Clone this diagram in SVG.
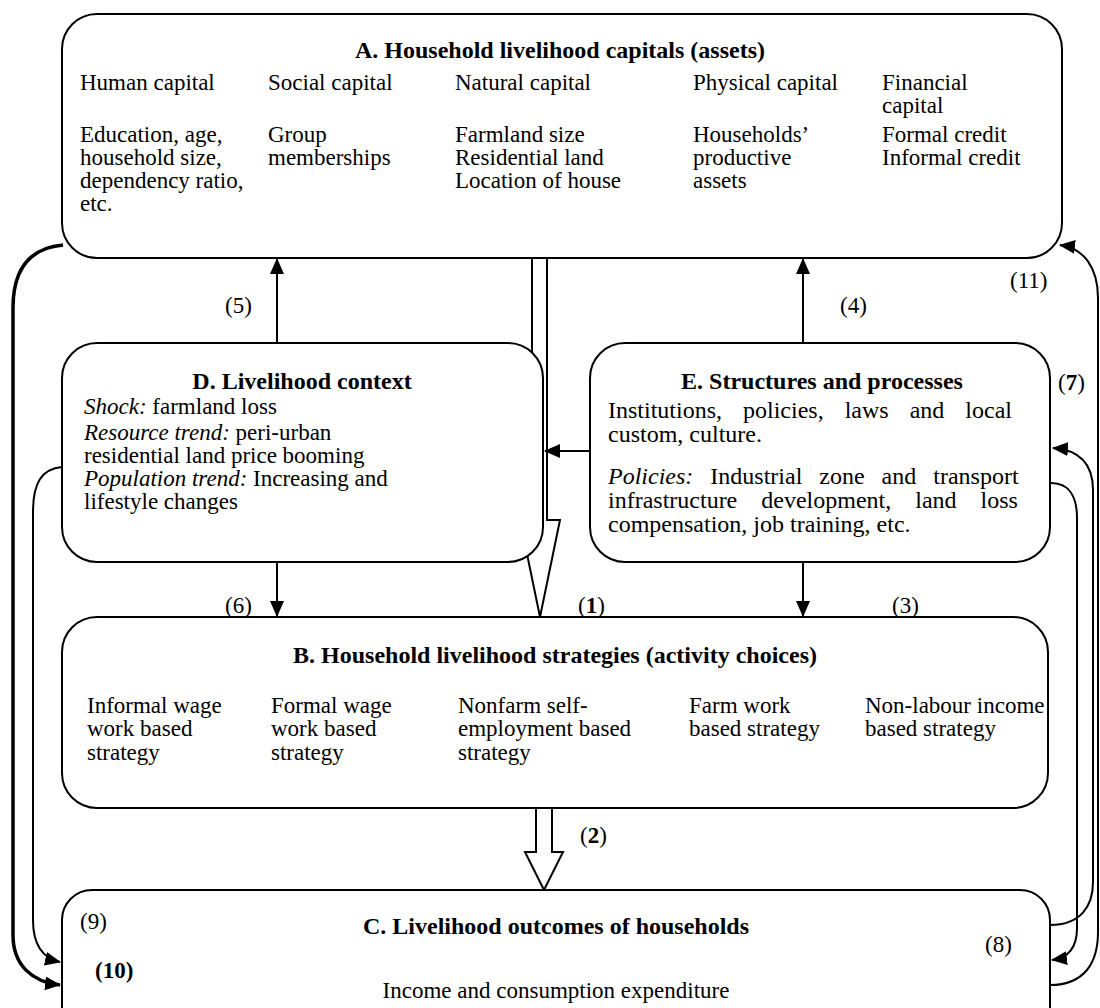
<svg xmlns="http://www.w3.org/2000/svg" width="1100" height="1008" viewBox="0 0 1100 1008">
<defs>
<style>
text{font-family:"Liberation Serif","Times New Roman",serif;font-size:23px;fill:#000}
.b{font-weight:bold}
.i{font-style:italic}
.m{text-anchor:middle}
.t{font-size:24px;font-weight:bold;text-anchor:middle}
.e{font-size:24px}
.box{fill:#fff;stroke:#000;stroke-width:2}
.ln{fill:none;stroke:#000;stroke-width:2}
.thick{fill:none;stroke:#000;stroke-width:3.5}
.hol{fill:#fff;stroke:#000;stroke-width:2}
</style>
<marker id="ah" markerWidth="16" markerHeight="14" refX="15" refY="7" orient="auto" markerUnits="userSpaceOnUse">
<path d="M0,0 L16,7 L0,14 Z" fill="#000"/>
</marker>
</defs>
<rect width="1100" height="1008" fill="#fff"/>

<g id="connectors">
<path class="thick" d="M63,245 C30,248 13,268 13,308 L13,935 C13,965 32,982 60,985" marker-end="url(#ah)"/>
<path class="ln" d="M62,467 C42,469 33,482 33,512 L33,920 C33,945 42,958 60,962" marker-end="url(#ah)"/>
<path class="ln" d="M1050,925 C1080,925 1093,907 1093,882 L1093,490 C1093,465 1080,450 1053,448" marker-end="url(#ah)"/>
<path class="ln" d="M1051,483 C1070,483 1077,498 1077,518 L1077,928 C1077,948 1068,958 1052,960" marker-end="url(#ah)"/>
<path class="ln" d="M1050,985 C1085,985 1098,962 1098,932 L1098,298 C1098,268 1084,248 1060,245" marker-end="url(#ah)"/>
<path class="ln" d="M277,343 L277,259" marker-end="url(#ah)"/>
<path class="ln" d="M803,343 L803,259" marker-end="url(#ah)"/>
<path class="ln" d="M277,562 L277,616" marker-end="url(#ah)"/>
<path class="ln" d="M803,562 L803,616" marker-end="url(#ah)"/>
<path class="hol" d="M532,258 L532,520 L520,520 L540,617 L560,520 L547,520 L547,258"/>
<path class="ln" d="M590,451 L545,451" marker-end="url(#ah)"/>
<path class="hol" d="M536,808 L536,852 L525,852 L544,890 L563,852 L552,852 L552,808"/>
</g>

<g id="nodeA">
<rect class="box" x="62" y="14" width="1000" height="244" rx="35"/>
<text class="t" x="560" y="58">A. Household livelihood capitals (assets)</text>
<text x="80" y="90">Human capital</text>
<text x="268" y="90">Social capital</text>
<text x="455" y="90">Natural capital</text>
<text x="693" y="90">Physical capital</text>
<text x="882" y="90">Financial</text>
<text x="882" y="113">capital</text>
<text x="80" y="142">Education, age,</text>
<text x="80" y="165">household size,</text>
<text x="80" y="188">dependency ratio,</text>
<text x="80" y="211">etc.</text>
<text x="268" y="142">Group</text>
<text x="268" y="165">memberships</text>
<text x="455" y="142">Farmland size</text>
<text x="455" y="165">Residential land</text>
<text x="455" y="188">Location of house</text>
<text x="693" y="142">Households’</text>
<text x="693" y="165">productive</text>
<text x="693" y="188">assets</text>
<text x="882" y="142">Formal credit</text>
<text x="882" y="165">Informal credit</text>
</g>

<g id="nodeD">
<rect class="box" x="62" y="343" width="481" height="219" rx="35"/>
<text class="t" x="302" y="389">D. Livelihood context</text>
<text x="84" y="414"><tspan class="i">Shock:</tspan> farmland loss</text>
<text x="84" y="440"><tspan class="i">Resource trend:</tspan> peri-urban</text>
<text x="84" y="463">residential land price booming</text>
<text x="84" y="486"><tspan class="i">Population trend:</tspan> Increasing and</text>
<text x="84" y="509">lifestyle changes</text>
</g>

<g id="nodeE">
<rect class="box" x="590" y="343" width="460" height="219" rx="35"/>
<text class="t" x="822" y="389">E. Structures and processes</text>
<text class="e" x="608" y="418" style="word-spacing:15px">Institutions, policies, laws and local</text>
<text class="e" x="608" y="442">custom, culture.</text>
<text class="e" x="608" y="484" style="word-spacing:11px"><tspan class="i">Policies:</tspan> Industrial zone and transport</text>
<text class="e" x="608" y="508" style="word-spacing:18px">infrastructure development, land loss</text>
<text class="e" x="608" y="532">compensation, job training, etc.</text>
</g>

<g id="nodeB">
<rect class="box" x="62" y="617" width="986" height="191" rx="35"/>
<text class="t" x="555" y="663">B. Household livelihood strategies (activity choices)</text>
<text x="87" y="713">Informal wage</text>
<text x="87" y="736">work based</text>
<text x="87" y="760">strategy</text>
<text x="271" y="713">Formal wage</text>
<text x="271" y="736">work based</text>
<text x="271" y="760">strategy</text>
<text x="458" y="713">Nonfarm self-</text>
<text x="458" y="736">employment based</text>
<text x="458" y="760">strategy</text>
<text x="689" y="713">Farm work</text>
<text x="689" y="736">based strategy</text>
<text x="865" y="713">Non-labour income</text>
<text x="865" y="736">based strategy</text>
</g>

<g id="nodeC">
<rect class="box" x="62" y="890" width="988" height="150" rx="30"/>
<text class="t" x="556" y="934">C. Livelihood outcomes of households</text>
<text x="80" y="929">(9)</text>
<text x="985" y="952">(8)</text>
<text class="b" x="95" y="978">(10)</text>
<text class="m" x="556" y="998">Income and consumption expenditure</text>
</g>

<g id="labels">
<text x="225" y="313">(5)</text>
<text x="840" y="313">(4)</text>
<text x="1010" y="288">(11)</text>
<text x="1058" y="390">(<tspan class="b">7</tspan>)</text>
<text x="225" y="613">(6)</text>
<text x="578" y="613">(<tspan class="b">1</tspan>)</text>
<text x="892" y="613">(3)</text>
<text x="580" y="843">(<tspan class="b">2</tspan>)</text>
</g>
</svg>
